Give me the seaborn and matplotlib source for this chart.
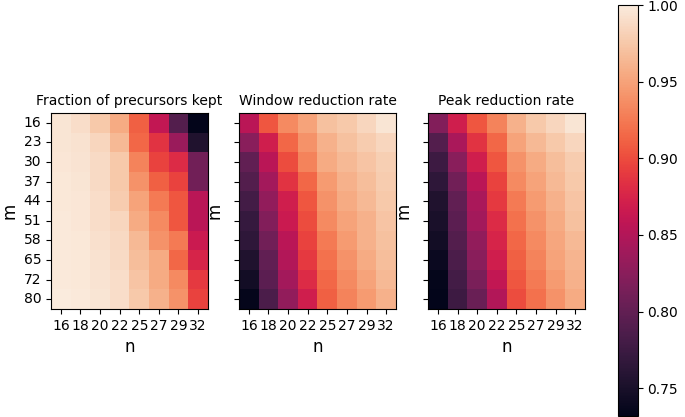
import numpy as np
import pandas as pd
import matplotlib
matplotlib.use("Agg")
import matplotlib.pyplot as plt
import seaborn as sns

m_vals = [16, 23, 30, 37, 44, 51, 58, 65, 72, 80]
n_vals = [16, 18, 20, 22, 25, 27, 29, 32]

frac_kept = [
    [0.995, 0.990, 0.975, 0.955, 0.910, 0.860, 0.790, 0.732],
    [0.995, 0.993, 0.985, 0.965, 0.915, 0.885, 0.835, 0.755],
    [0.996, 0.994, 0.988, 0.975, 0.930, 0.895, 0.880, 0.810],
    [0.997, 0.995, 0.988, 0.975, 0.940, 0.910, 0.895, 0.810],
    [0.997, 0.996, 0.990, 0.978, 0.950, 0.925, 0.905, 0.855],
    [0.998, 0.996, 0.990, 0.985, 0.955, 0.935, 0.905, 0.855],
    [0.998, 0.997, 0.992, 0.987, 0.965, 0.940, 0.925, 0.865],
    [0.998, 0.997, 0.993, 0.988, 0.968, 0.955, 0.915, 0.875],
    [0.998, 0.997, 0.994, 0.990, 0.972, 0.955, 0.935, 0.890],
    [0.999, 0.998, 0.995, 0.990, 0.975, 0.960, 0.940, 0.895],
]

window_rate = [
    [0.855, 0.905, 0.935, 0.950, 0.970, 0.975, 0.985, 0.995],
    [0.825, 0.870, 0.915, 0.940, 0.960, 0.970, 0.978, 0.985],
    [0.800, 0.855, 0.900, 0.930, 0.955, 0.965, 0.972, 0.980],
    [0.790, 0.840, 0.885, 0.915, 0.945, 0.960, 0.968, 0.978],
    [0.780, 0.830, 0.870, 0.905, 0.940, 0.955, 0.965, 0.975],
    [0.770, 0.820, 0.865, 0.900, 0.935, 0.950, 0.960, 0.972],
    [0.765, 0.810, 0.855, 0.895, 0.925, 0.945, 0.960, 0.970],
    [0.755, 0.800, 0.850, 0.890, 0.920, 0.940, 0.955, 0.968],
    [0.745, 0.795, 0.840, 0.880, 0.915, 0.935, 0.950, 0.965],
    [0.735, 0.785, 0.830, 0.870, 0.910, 0.930, 0.945, 0.960],
]

peak_rate = [
    [0.820, 0.870, 0.905, 0.930, 0.960, 0.975, 0.985, 0.995],
    [0.790, 0.845, 0.885, 0.915, 0.950, 0.965, 0.975, 0.985],
    [0.775, 0.825, 0.870, 0.905, 0.940, 0.955, 0.968, 0.978],
    [0.765, 0.810, 0.855, 0.895, 0.935, 0.950, 0.965, 0.975],
    [0.755, 0.800, 0.845, 0.890, 0.925, 0.945, 0.960, 0.972],
    [0.750, 0.795, 0.840, 0.880, 0.920, 0.940, 0.955, 0.970],
    [0.745, 0.790, 0.830, 0.875, 0.915, 0.935, 0.952, 0.965],
    [0.740, 0.785, 0.825, 0.870, 0.910, 0.930, 0.950, 0.962],
    [0.735, 0.780, 0.815, 0.860, 0.905, 0.925, 0.945, 0.960],
    [0.732, 0.775, 0.805, 0.850, 0.900, 0.920, 0.940, 0.955],
]

titles = ["Fraction of precursors kept", "Window reduction rate", "Peak reduction rate"]
tables = [frac_kept, window_rate, peak_rate]

vmin, vmax = 0.732, 1.0

fig = plt.figure(figsize=(6.85, 4.17), dpi=100)
lefts = [0.0745, 0.349, 0.625]
axes = [fig.add_axes([l, 0.259, 0.229, 0.470]) for l in lefts]
cax = fig.add_axes([0.902, 0.003, 0.029, 0.985])

for i, (ax, tab, title) in enumerate(zip(axes, tables, titles)):
    df = pd.DataFrame(tab, index=m_vals, columns=n_vals)
    sns.heatmap(df, ax=ax, cmap="rocket", vmin=vmin, vmax=vmax,
                cbar=(i == 0), cbar_ax=cax if i == 0 else None)
    for sp in ax.spines.values():
        sp.set_visible(True)
        sp.set_linewidth(0.8)
    ax.set_title(title, fontsize=10)
    ax.set_xlabel("n", fontsize=12)
    ax.set_ylabel("m", fontsize=12)
    ax.tick_params(axis="x", rotation=0, labelsize=10)
    ax.tick_params(axis="y", rotation=0, labelsize=10)
    if i > 0:
        ax.set_yticklabels([])

cb = axes[0].collections[0].colorbar
cb.outline.set_linewidth(0.8)
cb.outline.set_edgecolor("black")
cb.set_ticks([0.75, 0.80, 0.85, 0.90, 0.95, 1.00])
cax.tick_params(labelsize=10)

fig.savefig("out.png", dpi=100)
